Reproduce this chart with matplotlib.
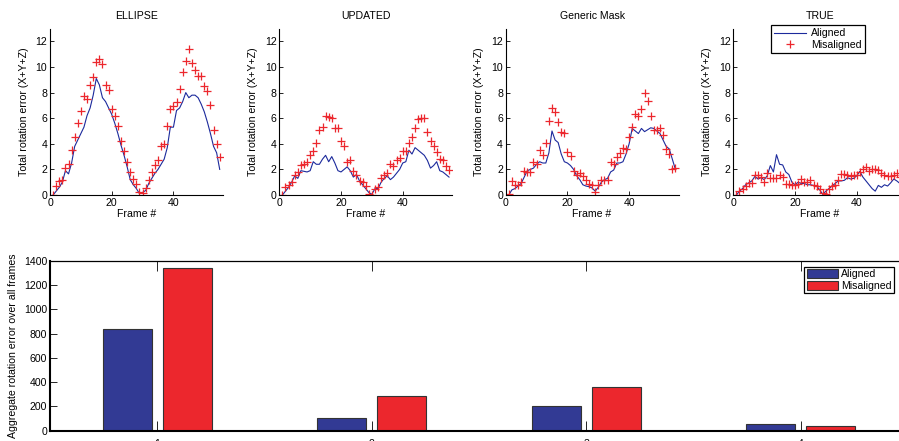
import matplotlib
matplotlib.use("Agg")
import matplotlib.pyplot as plt
import numpy as np

plt.rcParams['font.family'] = ['Liberation Sans', 'DejaVu Sans']

# per-frame rotation error, frames 1..55
frames = np.arange(1, 56)

ellipse_aligned = [0, 0.3, 0.6, 1.0, 1.9, 1.65, 2.5, 3.8, 4.3, 4.8,
                   5.3, 6.2, 6.8, 7.8, 9.1, 8.6, 7.6, 7.3, 6.8, 6.3,
                   5.6, 4.8, 3.9, 3.1, 2.2, 1.2, 0.8, 0.5, 0.1, 0.2,
                   0.35, 0.9, 1.3, 1.7, 2.0, 2.4, 2.8, 3.7, 5.3, 5.3,
                   6.6, 6.8, 7.3, 8.0, 7.6, 7.8, 7.8, 7.6, 7.1, 6.5,
                   5.7, 4.8, 3.8, 3.3, 2.0]
ellipse_misaligned = [0, 0.73, 1.1, 1.17, 2.1, 2.4, 3.5, 4.5, 5.6, 6.6,
                      7.7, 7.5, 8.6, 9.2, 10.4, 10.6, 10.2, 8.6, 8.2, 6.7,
                      6.2, 5.4, 4.2, 3.4, 2.6, 1.8, 1.25, 0.83, 0.26, 0.18,
                      0.57, 1.17, 1.77, 2.34, 2.7, 3.85, 4.0, 5.4, 6.7, 6.95,
                      7.3, 8.3, 9.6, 10.5, 11.4, 10.3, 9.8, 9.3, 9.3, 8.5,
                      8.1, 7.0, 5.1, 4.0, 2.95]

updated_aligned = [0, 0.3, 0.6, 1.0, 1.5, 1.3, 1.9, 1.85, 1.8, 1.9,
                   2.6, 2.4, 2.4, 2.8, 3.1, 2.6, 3.0, 2.5, 1.9, 1.8,
                   2.0, 2.2, 1.9, 1.4, 1.6, 1.1, 0.8, 0.5, 0.2, 0.05,
                   0.5, 0.5, 1.0, 1.3, 1.5, 1.2, 1.4, 1.7, 2.0, 2.5,
                   2.6, 3.5, 3.2, 3.7, 3.5, 3.3, 3.1, 2.7, 2.1, 2.3,
                   2.6, 1.9, 1.8, 1.6, 1.4]
updated_misaligned = [0, 0.6, 0.75, 1.05, 1.55, 1.8, 2.35, 2.45, 2.6, 3.1,
                      3.45, 4.1, 5.1, 5.35, 6.15, 6.1, 6.0, 5.25, 5.2, 4.2,
                      3.8, 2.6, 2.7, 1.9, 1.55, 1.1, 1.0, 0.7, 0.08, 0.03,
                      0.5, 0.65, 1.3, 1.6, 1.7, 2.4, 2.3, 2.7, 2.9, 3.4,
                      3.4, 4.1, 4.5, 5.25, 5.9, 6.0, 6.05, 4.9, 4.2, 3.85,
                      3.35, 2.8, 2.75, 2.25, 1.95]

generic_aligned = [0, 0.4, 0.5, 0.7, 0.9, 1.4, 1.9, 2.0, 2.1, 2.4,
                   2.6, 2.5, 2.5, 3.3, 5.0, 4.3, 4.1, 3.2, 2.6, 2.5,
                   2.3, 2.0, 1.5, 1.2, 0.8, 0.7, 0.65, 0.55, 0.3, 0.6,
                   1.0, 1.2, 1.3, 1.8, 1.95, 2.5, 2.5, 2.6, 3.2, 4.0,
                   5.2, 5.0, 4.8, 5.2, 4.95, 5.1, 5.25, 5.2, 5.0, 4.8,
                   4.3, 3.8, 3.6, 2.8, 2.0]
generic_misaligned = [0.05, 1.1, 0.8, 0.75, 1.0, 1.85, 1.8, 1.8, 2.55, 2.4,
                      3.5, 3.1, 4.05, 5.75, 6.8, 6.5, 5.7, 4.95, 4.85, 3.35,
                      3.05, 1.9, 1.55, 1.75, 1.45, 1.15, 0.85, 0.75, 0.2, 0.8,
                      1.2, 1.2, 1.15, 2.55, 2.4, 2.95, 3.25, 3.65, 3.6, 4.55,
                      5.3, 6.3, 6.2, 6.7, 7.95, 7.35, 6.15, 5.1, 5.1, 5.2,
                      4.7, 3.6, 3.2, 2.0, 2.1]

true_aligned = [0, 0.3, 0.5, 0.8, 0.95, 1.1, 1.45, 1.25, 1.35, 1.2,
                1.5, 2.3, 1.8, 3.15, 2.4, 2.35, 1.8, 1.6, 1.0, 0.8,
                1.0, 0.9, 0.9, 0.8, 0.8, 0.75, 0.7, 0.4, 0.05, 0.3,
                0.5, 0.7, 0.9, 1.1, 1.1, 1.15, 1.35, 1.25, 1.3, 1.5,
                1.85, 1.4, 1.1, 0.8, 0.5, 0.3, 0.75, 0.6, 0.8, 0.7,
                0.95, 1.25, 1.1, 0.9, 0.8]
true_misaligned = [0, 0.3, 0.45, 0.7, 0.9, 0.95, 1.55, 1.55, 1.4, 1.0,
                   1.75, 1.35, 1.3, 1.35, 1.6, 1.4, 0.85, 0.85, 0.8, 0.75,
                   0.85, 1.25, 1.05, 1.0, 1.15, 0.75, 0.7, 0.5, 0.15, 0.1,
                   0.45, 0.7, 0.75, 1.2, 1.65, 1.65, 1.55, 1.5, 1.6, 1.55,
                   1.8, 2.0, 2.2, 1.85, 2.05, 2.05, 1.95, 1.7, 1.55, 1.5,
                   1.5, 1.6, 1.7, 1.4, 1.3]

titles = ["ELLIPSE", "UPDATED", "Generic Mask", "TRUE"]
aligned_series = [ellipse_aligned, updated_aligned, generic_aligned, true_aligned]
misaligned_series = [ellipse_misaligned, updated_misaligned, generic_misaligned, true_misaligned]

# aggregate error per method
methods = [1, 2, 3, 4]
agg_aligned = [835, 102, 203, 58]
agg_misaligned = [1337, 286, 360, 41]

blue_line = "#1c2a9c"
blue_bar = "#323a94"
red = "#ec272d"
fs = 7.6

W, H = 899, 441
fig = plt.figure(figsize=(W / 100, H / 100), dpi=100)


def px_axes(left, top, width, height):
    return fig.add_axes([left / W, (H - top - height) / H, width / W, height / H])


###########################################################################
#                           FRAME ERROR PANELS                            #
###########################################################################

lefts = [50, 279.3, 505.7, 733.3]
for i in range(4):
    ax = px_axes(lefts[i], 28.6, 172.8, 166.4)
    ax.plot(frames, aligned_series[i], color=blue_line, lw=0.8, label="Aligned")
    ax.plot(frames, misaligned_series[i], ls="none", marker="+", ms=5.5, mew=0.9,
            color=red, label="Misaligned")
    ax.set_xlim(0, 56)
    ax.set_ylim(0, 13)
    ax.set_xticks([0, 20, 40])
    ax.set_yticks(range(0, 13, 2))
    ax.spines["top"].set_visible(False)
    ax.spines["right"].set_visible(False)
    for s in ["left", "bottom"]:
        ax.spines[s].set_linewidth(0.8)
    ax.tick_params(direction="in", length=3, width=0.6, labelsize=fs, pad=2)
    ax.set_title(titles[i], fontsize=fs, pad=7)
    ax.set_xlabel("Frame #", fontsize=fs, labelpad=1)
    ax.set_ylabel("Total rotation error (X+Y+Z)", fontsize=fs, labelpad=5)
    if i == 3:
        leg = ax.legend(loc="upper left", bbox_to_anchor=(0.22, 1.02), fontsize=fs,
                        frameon=True, fancybox=False, framealpha=1,
                        edgecolor="black", handlelength=3.0, borderpad=0.3,
                        labelspacing=0.15, handletextpad=0.5, borderaxespad=0.0)
        leg.get_frame().set_linewidth(0.9)

###########################################################################
#                              AGGREGATE BARS                             #
###########################################################################

ax = px_axes(50, 260.7, 858, 170)
x = np.array(methods)
ax.bar(x - 0.14, agg_aligned, width=0.228, color=blue_bar, edgecolor="#333333",
       lw=0.8, label="Aligned")
ax.bar(x + 0.14, agg_misaligned, width=0.228, color=red, edgecolor="#333333",
       lw=0.8, label="Misaligned")
ax.set_xlim(0.5, 4.5)
ax.set_ylim(0, 1400)
ax.set_xticks(methods)
ax.set_yticks(range(0, 1401, 200))
ax.tick_params(direction="in", length=7, width=0.6, labelsize=fs, pad=2,
               top=True, right=True)
ax.tick_params(axis="x", pad=6)
ax.tick_params(axis="y", length=5)
for s in ["top", "right"]:
    ax.spines[s].set_linewidth(0.9)
for s in ["left", "bottom"]:
    ax.spines[s].set_linewidth(1.5)
ax.set_ylabel("Aggregate rotation error over all frames", fontsize=fs, labelpad=4)
leg = ax.legend(loc="upper right", bbox_to_anchor=((894 - 50) / 858, 0.965),
                fontsize=fs, frameon=True, fancybox=False, framealpha=1,
                edgecolor="black", handlelength=3.0, handleheight=0.95,
                borderpad=0.2, labelspacing=0.15, handletextpad=0.3,
                borderaxespad=0.0)
leg.get_frame().set_linewidth(0.9)

fig.savefig("out.png", dpi=100)
